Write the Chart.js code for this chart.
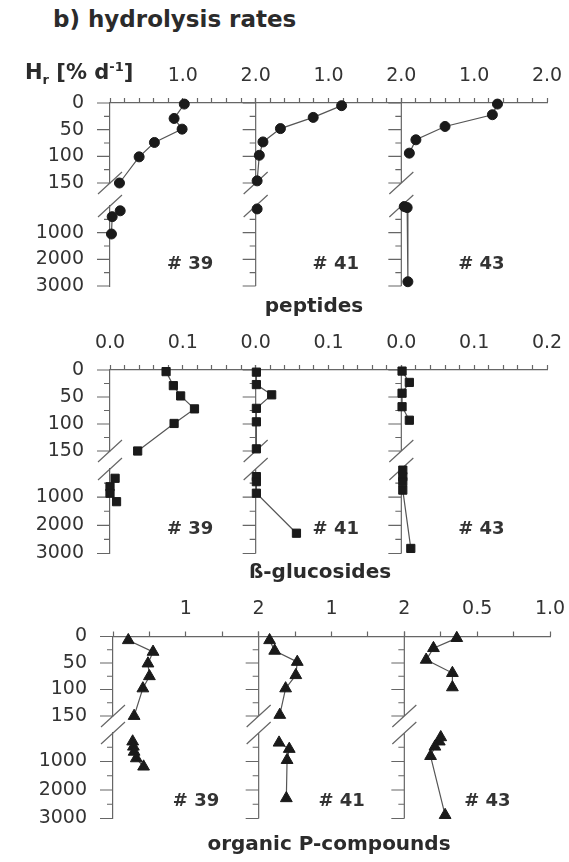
<!DOCTYPE html>
<html>
<head>
<meta charset="utf-8">
<script src="https://cdn.jsdelivr.net/npm/chart.js@4.4.1/dist/chart.umd.min.js"></script>
<style>
  html, body { margin: 0; padding: 0; background: #fff; }
  #page { position: relative; width: 569px; height: 862px; overflow: hidden;
          font-family: 'DejaVu Sans', sans-serif; color: #2b2b2b; }
  canvas { position: absolute; left: 0; }
  .lbl { position: absolute; font-weight: bold; white-space: nowrap; line-height: 1; }
  .lbl.c { text-align: center; width: 300px; }
  sub, sup { font-size: 0.62em; line-height: 0; }
  #title { left: 53px; top: 8px; font-size: 23px; }
  #hr { left: 25px; top: 62px; font-size: 21px; }
  #pepName { left: 164px; top: 295px; font-size: 20px; }
  #gluName { left: 170px; top: 561px; font-size: 20px; }
  #orgName { left: 179px; top: 833px; font-size: 20px; }
</style>
</head>
<body>
<div id="page">
  <canvas id="pep" width="569" height="250" style="top:50px"></canvas>
  <canvas id="glu" width="569" height="250" style="top:318px"></canvas>
  <canvas id="org" width="569" height="250" style="top:585px"></canvas>
  <div class="lbl" id="title">b) hydrolysis rates</div>
  <div class="lbl" id="hr">H<sub>r</sub> [% d<sup>-1</sup>]</div>
  <div class="lbl c" id="pepName">peptides</div>
  <div class="lbl c" id="gluName">ß-glucosides</div>
  <div class="lbl c" id="orgName">organic P-compounds</div>
</div>
<script>
const STATIONS = ['# 39', '# 41', '# 43'];

/* DEPTH AXIS (m), broken: 0-150 on top, deep part below */
const TOP_TICKS = [0, 25, 50, 75, 100, 125, 150];
const TOP_LABELS = [0, 50, 100, 150];
const BOT_TICKS = [500, 1000, 1500, 2000, 2500, 3000];
const BOT_LABELS = [1000, 2000, 3000];

/* RATE AXES, one per station */
const PEP_MAX = [2, 2, 2];
const PEP_STEP = [0.2, 0.2, 0.2];
const PEP_XLABELS = [[1, 2], [1, 2], [1, 2]];
const PEP_DIGITS = [1, 1, 1];

const GLU_MAX = [0.2, 0.2, 0.2];
const GLU_STEP = [0.02, 0.02, 0.02];
const GLU_XLABELS = [[0, 0.1], [0, 0.1], [0, 0.1, 0.2]];
const GLU_DIGITS = [1, 1, 1];

const ORG_MAX = [2, 2, 1];
const ORG_STEP = [0.5, 0.5, 0.25];
const ORG_XLABELS = [[1, 2], [1, 2], [0.5, 1]];
const ORG_DIGITS = [0, 0, 1];

/* DATA - peptides */
const pep39Depth = [2, 29, 49, 74, 101, 150];
const pep39Rate = [1.02, 0.88, 0.99, 0.61, 0.40, 0.13];
const pep39DeepDepth = [180, 400, 1050];
const pep39DeepRate = [0.14, 0.03, 0.02];

const pep41Depth = [5, 27, 48, 73, 98, 146];
const pep41Rate = [1.18, 0.79, 0.34, 0.10, 0.05, 0.02];
const pep41DeepDepth = [110];
const pep41DeepRate = [0.02];

const pep43Depth = [2, 22, 44, 69, 94];
const pep43Rate = [1.32, 1.25, 0.60, 0.20, 0.11];
const pep43DeepDepth = [20, 60, 2840];
const pep43DeepRate = [0.04, 0.08, 0.09];

/* DATA - beta-glucosides */
const glu39Depth = [3, 29, 48, 72, 99, 150];
const glu39Rate = [0.077, 0.087, 0.097, 0.116, 0.088, 0.038];
const glu39DeepDepth = [330, 630, 860, 1160];
const glu39DeepRate = [0.007, 0.0, 0.0, 0.009];

const glu41Depth = [4, 27, 46, 71, 96, 146];
const glu41Rate = [0.001, 0.001, 0.022, 0.001, 0.001, 0.001];
const glu41DeepDepth = [270, 450, 860, 2280];
const glu41DeepRate = [0.001, 0.001, 0.001, 0.056];

const glu43Depth = [2, 23, 43, 68, 93];
const glu43Rate = [0.001, 0.011, 0.001, 0.001, 0.011];
const glu43DeepDepth = [40, 270, 450, 750, 2820];
const glu43DeepRate = [0.002, 0.002, 0.002, 0.002, 0.013];

/* DATA - organic P-compounds */
const org39Depth = [7, 29, 51, 75, 98, 150];
const org39Rate = [0.21, 0.55, 0.48, 0.50, 0.41, 0.29];
const org39DeepDepth = [300, 480, 660, 890, 1180];
const org39DeepRate = [0.27, 0.28, 0.29, 0.32, 0.42];

const org41Depth = [7, 27, 48, 73, 98, 148];
const org41Rate = [0.15, 0.22, 0.53, 0.51, 0.37, 0.29];
const org41DeepDepth = [340, 560, 950, 2290];
const org41DeepRate = [0.28, 0.42, 0.39, 0.38];

const org43Depth = [3, 22, 44, 69, 96];
const org43Rate = [0.36, 0.20, 0.15, 0.33, 0.33];
const org43DeepDepth = [150, 300, 480, 810, 2880];
const org43DeepRate = [0.25, 0.24, 0.21, 0.18, 0.28];


/* STYLE */
const AXIS = '#666';
const TEXT = '#333';
const FONT = "'DejaVu Sans', sans-serif";

const pairs = (depths, rates) => depths.map((d, i) => ({x: rates[i], y: d}));

// fixed axis size, and no extra room for the end labels
const fixSize = (w, h) => s => {
    if (w !== null) s.width = w;
    if (h !== null) s.height = h;
    s.paddingTop = s.paddingBottom = s.paddingLeft = s.paddingRight = 0;
};

const SERIES = (depths, rates, panel, part, marker) => {
    return {
        data: pairs(depths, rates),
        xAxisID: 'x' + panel,
        yAxisID: part,
        showLine: true,
        borderColor: '#555',
        borderWidth: 1.2,
        pointStyle: marker.style,
        pointRadius: marker.radius,
        pointBackgroundColor: '#1a1a1a',
        pointBorderColor: '#1a1a1a',
        pointBorderWidth: 1,
        clip: false
    };
};

const Y_AXIS = (ticksList, labels, max, weight, width) => {
    return {
        type: 'linear', position: 'left', stack: 'depth', stackWeight: weight,
        reverse: true, min: 0, max: max,
        afterBuildTicks: s => { s.ticks = ticksList.map(v => ({value: v})); },
        afterFit: fixSize(width, null),
        border: {color: AXIS, width: 1.2},
        grid: {drawOnChartArea: false, drawTicks: false},
        ticks: {
            autoSkip: false, padding: 26, color: TEXT, font: {family: FONT, size: 19},
            callback: v => labels.includes(v) ? String(v) : ''
        }
    };
};

const GAP_AXIS = (weight, width) => {
    return {
        type: 'linear', position: 'left', stack: 'depth', stackWeight: weight,
        min: 0, max: 1,
        afterFit: fixSize(width, null),
        border: {display: false},
        grid: {display: false},
        ticks: {display: false}
    };
};

const X_AXIS = (max, step, labels, digits, height) => {
    return {
        type: 'linear', position: 'top', stack: 'rate', stackWeight: 1,
        min: 0, max: max,
        afterFit: fixSize(null, height),
        border: {color: AXIS, width: 1.2},
        grid: {drawOnChartArea: false, tickLength: 5, tickColor: AXIS, tickWidth: 1.2},
        ticks: {
            stepSize: step, autoSkip: false, maxRotation: 0, padding: 11,
            color: TEXT, font: {family: FONT, size: 19},
            callback: v => {
                const l = labels.find(a => Math.abs(a - v) < 1e-6);
                return l === undefined ? '' : l.toFixed(digits);
            }
        }
    };
};

/* depth ticks of all panels, frames of #41 and #43, break marks, station names */
const panelFrames = {
    id: 'panelFrames',
    beforeDatasetsDraw(chart, args, opts) {
        const ctx = chart.ctx;
        const s = chart.scales;
        const segs = [[s.yTop, TOP_TICKS, TOP_LABELS], [s.yBot, BOT_TICKS, BOT_LABELS]];
        ctx.save();
        ctx.strokeStyle = AXIS;
        ctx.lineWidth = 1.2;
        ['x1', 'x2', 'x3'].forEach((id, p) => {
            const x = s[id].left;
            ctx.beginPath();
            segs.forEach(([sc, tks, lbs]) => {
                if (p > 0) {
                    ctx.moveTo(x, sc.top);
                    ctx.lineTo(x, sc.bottom);
                }
                tks.forEach(v => {
                    const y = sc.getPixelForValue(v);
                    ctx.moveTo(x - (lbs.includes(v) ? 13 : 6), y);
                    ctx.lineTo(x, y);
                });
            });
            [s.yTop.bottom, s.yBot.top].forEach(y => {
                ctx.moveTo(x - 12, y + 11);
                ctx.lineTo(x + 12, y - 11);
            });
            ctx.stroke();
        });
        ctx.fillStyle = TEXT;
        ctx.font = 'bold 18px ' + FONT;
        ctx.textAlign = 'center';
        ctx.textBaseline = 'middle';
        STATIONS.forEach((t, p) => {
            const xs = s['x' + (p + 1)];
            ctx.fillText(t, xs.left + xs.width * opts.at, s.yBot.getPixelForValue(opts.depth));
        });
        ctx.restore();
    }
};

const makeRow = (id, rows, xAxes, marker, g) => {
    const datasets = [];
    rows.forEach((r, p) => {
        datasets.push(SERIES(r[0], r[1], p + 1, 'yTop', marker));
        datasets.push(SERIES(r[2], r[3], p + 1, 'yBot', marker));
    });
    return new Chart(document.getElementById(id), {
        type: 'scatter',
        data: {datasets: datasets},
        options: {
            responsive: false,
            animation: false,
            events: [],
            layout: {padding: {left: 0, top: 0, right: g.right, bottom: g.bottom}},
            plugins: {
                legend: {display: false},
                tooltip: {enabled: false},
                panelFrames: {at: g.labelAt, depth: g.labelDepth}
            },
            scales: {
                yBot: Y_AXIS(BOT_TICKS, BOT_LABELS, 3000, g.weights[2], g.left),
                yGap: GAP_AXIS(g.weights[1], g.left),
                yTop: Y_AXIS(TOP_TICKS, TOP_LABELS, 150, g.weights[0], g.left),
                x3: xAxes[2],
                x2: xAxes[1],
                x1: xAxes[0]
            }
        },
        plugins: [panelFrames]
    });
};

const xAxesFor = (max, step, labels, digits, height) =>
    [0, 1, 2].map(i => X_AXIS(max[i], step[i], labels[i], digits[i], height));

/* peptides */
var chartPep = makeRow('pep', [
    [pep39Depth, pep39Rate, pep39DeepDepth, pep39DeepRate],
    [pep41Depth, pep41Rate, pep41DeepDepth, pep41DeepRate],
    [pep43Depth, pep43Rate, pep43DeepDepth, pep43DeepRate]
], xAxesFor(PEP_MAX, PEP_STEP, PEP_XLABELS, PEP_DIGITS, 53),
   {style: 'circle', radius: 5},
   {left: 110, right: 22, bottom: 14, weights: [80, 23, 80], labelAt: 0.55, labelDepth: 2200});

/* beta-glucosides */
var chartGlu = makeRow('glu', [
    [glu39Depth, glu39Rate, glu39DeepDepth, glu39DeepRate],
    [glu41Depth, glu41Rate, glu41DeepDepth, glu41DeepRate],
    [glu43Depth, glu43Rate, glu43DeepDepth, glu43DeepRate]
], xAxesFor(GLU_MAX, GLU_STEP, GLU_XLABELS, GLU_DIGITS, 52),
   {style: 'rect', radius: 5.8},
   {left: 110, right: 22, bottom: 14.5, weights: [81, 18, 84.5], labelAt: 0.55, labelDepth: 2150});

/* organic P-compounds */
var chartOrg = makeRow('org', [
    [org39Depth, org39Rate, org39DeepDepth, org39DeepRate],
    [org41Depth, org41Rate, org41DeepDepth, org41DeepRate],
    [org43Depth, org43Rate, org43DeepDepth, org43DeepRate]
], xAxesFor(ORG_MAX, ORG_STEP, ORG_XLABELS, ORG_DIGITS, 51.5),
   {style: 'triangle', radius: 6.8},
   {left: 113, right: 19, bottom: 16.5, weights: [79.5, 17, 85.5], labelAt: 0.57, labelDepth: 2380});
</script>
</body>
</html>
